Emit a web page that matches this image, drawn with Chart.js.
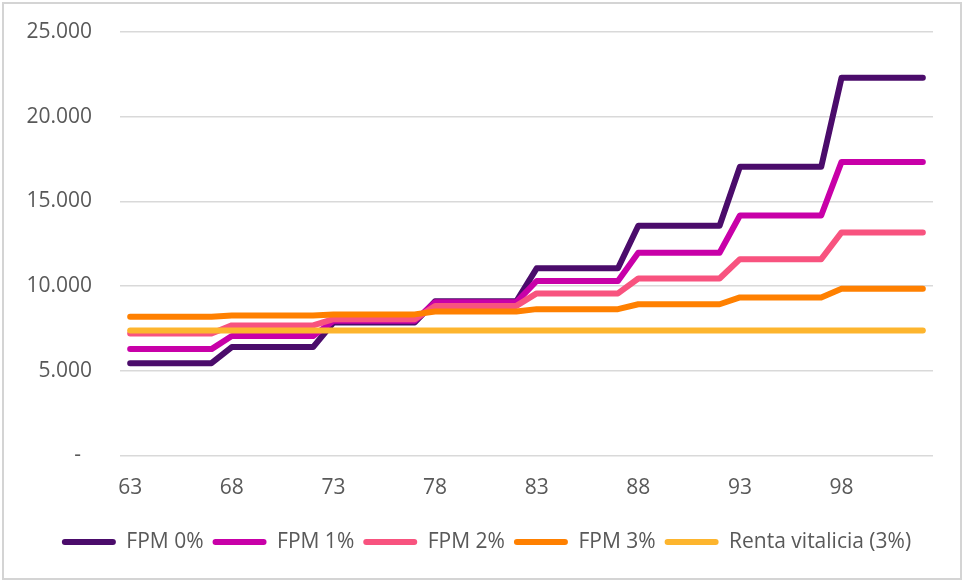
<!DOCTYPE html>
<html>
<head>
<meta charset="utf-8">
<script src="https://cdn.jsdelivr.net/npm/chart.js@4"></script>
<style>
  html, body { margin: 0; padding: 0; background: #ffffff; }
  #wrap { position: relative; width: 963px; height: 581px; }
</style>
</head>
<body>
<div id="wrap"><canvas id="chart" width="963" height="581"></canvas></div>
<script>
// Ages (years) on the horizontal axis
const ages = [];
for (let a = 63; a <= 102; a++) ages.push(a);

// Annual payout per scenario, one value per age
const fpm0 = [
  5450, 5450, 5450, 5450, 5450,
  6400, 6400, 6400, 6400, 6400,
  7850, 7850, 7850, 7850, 7850,
  9100, 9100, 9100, 9100, 9100,
  11050, 11050, 11050, 11050, 11050,
  13560, 13560, 13560, 13560, 13560,
  17040, 17040, 17040, 17040, 17040,
  22300, 22300, 22300, 22300, 22300
];
const fpm1 = [
  6280, 6280, 6280, 6280, 6280,
  7050, 7050, 7050, 7050, 7050,
  7950, 7950, 7950, 7950, 7950,
  9050, 9050, 9050, 9050, 9050,
  10300, 10300, 10300, 10300, 10300,
  11970, 11970, 11970, 11970, 11970,
  14170, 14170, 14170, 14170, 14170,
  17330, 17330, 17330, 17330, 17330
];
const fpm2 = [
  7200, 7200, 7200, 7200, 7200,
  7680, 7680, 7680, 7680, 7680,
  8050, 8050, 8050, 8050, 8050,
  8830, 8830, 8830, 8830, 8830,
  9570, 9570, 9570, 9570, 9570,
  10450, 10450, 10450, 10450, 10450,
  11590, 11590, 11590, 11590, 11590,
  13170, 13170, 13170, 13170, 13170
];
const fpm3 = [
  8190, 8190, 8190, 8190, 8190,
  8260, 8260, 8260, 8260, 8260,
  8330, 8330, 8330, 8330, 8330,
  8500, 8500, 8500, 8500, 8500,
  8640, 8640, 8640, 8640, 8640,
  8930, 8930, 8930, 8930, 8930,
  9330, 9330, 9330, 9330, 9330,
  9840, 9840, 9840, 9840, 9840
];
const renta = ages.map(() => 7380);

// Series names and colours
const seriesNames = ['FPM 0%', 'FPM 1%', 'FPM 2%', 'FPM 3%', 'Renta vitalicia (3%)'];
const seriesColors = ['#4B0C6B', '#C800A8', '#F8537F', '#FF8000', '#FDB52E'];
const seriesValues = [fpm0, fpm1, fpm2, fpm3, renta];

// Y tick values
const yTicks = [0, 5000, 10000, 15000, 20000, 25000];

const FONT = "'Open Sans', 'Noto Sans', sans-serif";
const FONT_SIZE = 21;
const TEXT_COLOR = '#595959';
const GRID_COLOR = '#d9d9d9';

function fmtThousands(v) {
  if (v === 0) return '-  ';
  return String(v).replace(/\B(?=(\d{3})+(?!\d))/g, '.');
}

// Light frame around the whole figure
const framePlugin = {
  id: 'frame',
  beforeDraw(chart) {
    const ctx = chart.ctx;
    ctx.save();
    ctx.strokeStyle = '#d4d4d4';
    ctx.lineWidth = 2;
    ctx.strokeRect(3, 3, chart.width - 5, chart.height - 5);
    ctx.restore();
  }
};

// Later series are painted over earlier ones (lower order = drawn on top)
const datasets = seriesNames.map((name, i) => ({
  label: name,
  data: seriesValues[i],
  borderColor: seriesColors[i],
  backgroundColor: seriesColors[i],
  borderWidth: 6,
  borderCapStyle: 'round',
  borderJoinStyle: 'round',
  pointRadius: 0,
  pointHoverRadius: 0,
  tension: 0,
  fill: false,
  order: seriesNames.length - 1 - i
}));

new Chart(document.getElementById('chart'), {
  type: 'line',
  data: { labels: ages, datasets },
  plugins: [framePlugin],
  options: {
    responsive: false,
    animation: false,
    devicePixelRatio: 1,
    layout: { padding: { left: 10, right: 0, top: 32, bottom: 18.5 } },
    plugins: {
      tooltip: { enabled: false },
      legend: {
        position: 'bottom',
        labels: {
          font: { family: FONT, size: FONT_SIZE },
          color: TEXT_COLOR,
          boxWidth: 54,
          boxHeight: 6,
          padding: 9,
          useBorderRadius: true,
          borderRadius: 3,
          sort: (a, b) => a.datasetIndex - b.datasetIndex,
          generateLabels(chart) {
            return chart.data.datasets.map((d, i) => ({
              text: d.label,
              fillStyle: d.borderColor,
              strokeStyle: d.borderColor,
              lineWidth: 0,
              fontColor: TEXT_COLOR,
              hidden: false,
              datasetIndex: i,
              borderRadius: 3
            }));
          }
        }
      }
    },
    scales: {
      x: {
        type: 'category',
        offset: true,
        afterFit(scale) {
          scale.height = 67;
          scale.paddingLeft = 0;
          scale.paddingRight = 30;
        },
        grid: { display: false, drawTicks: false },
        border: { display: false },
        ticks: {
          autoSkip: false,
          maxRotation: 0,
          padding: 20,
          color: TEXT_COLOR,
          font: { family: FONT, size: FONT_SIZE },
          callback(value, index) {
            const age = ages[index];
            return (age - ages[0]) % 5 === 0 ? String(age) : '';
          }
        }
      },
      y: {
        min: 0,
        max: 25000,
        afterFit(scale) {
          scale.width = 110;
          scale.paddingTop = 0;
          scale.paddingBottom = 0;
        },
        afterBuildTicks(scale) { scale.ticks = yTicks.map(v => ({ value: v })); },
        grid: { color: GRID_COLOR, lineWidth: 1.5, drawTicks: false },
        border: { display: false },
        ticks: {
          padding: 28,
          color: TEXT_COLOR,
          font: { family: FONT, size: FONT_SIZE },
          callback: (v) => fmtThousands(v)
        }
      }
    }
  }
});
</script>
</body>
</html>
